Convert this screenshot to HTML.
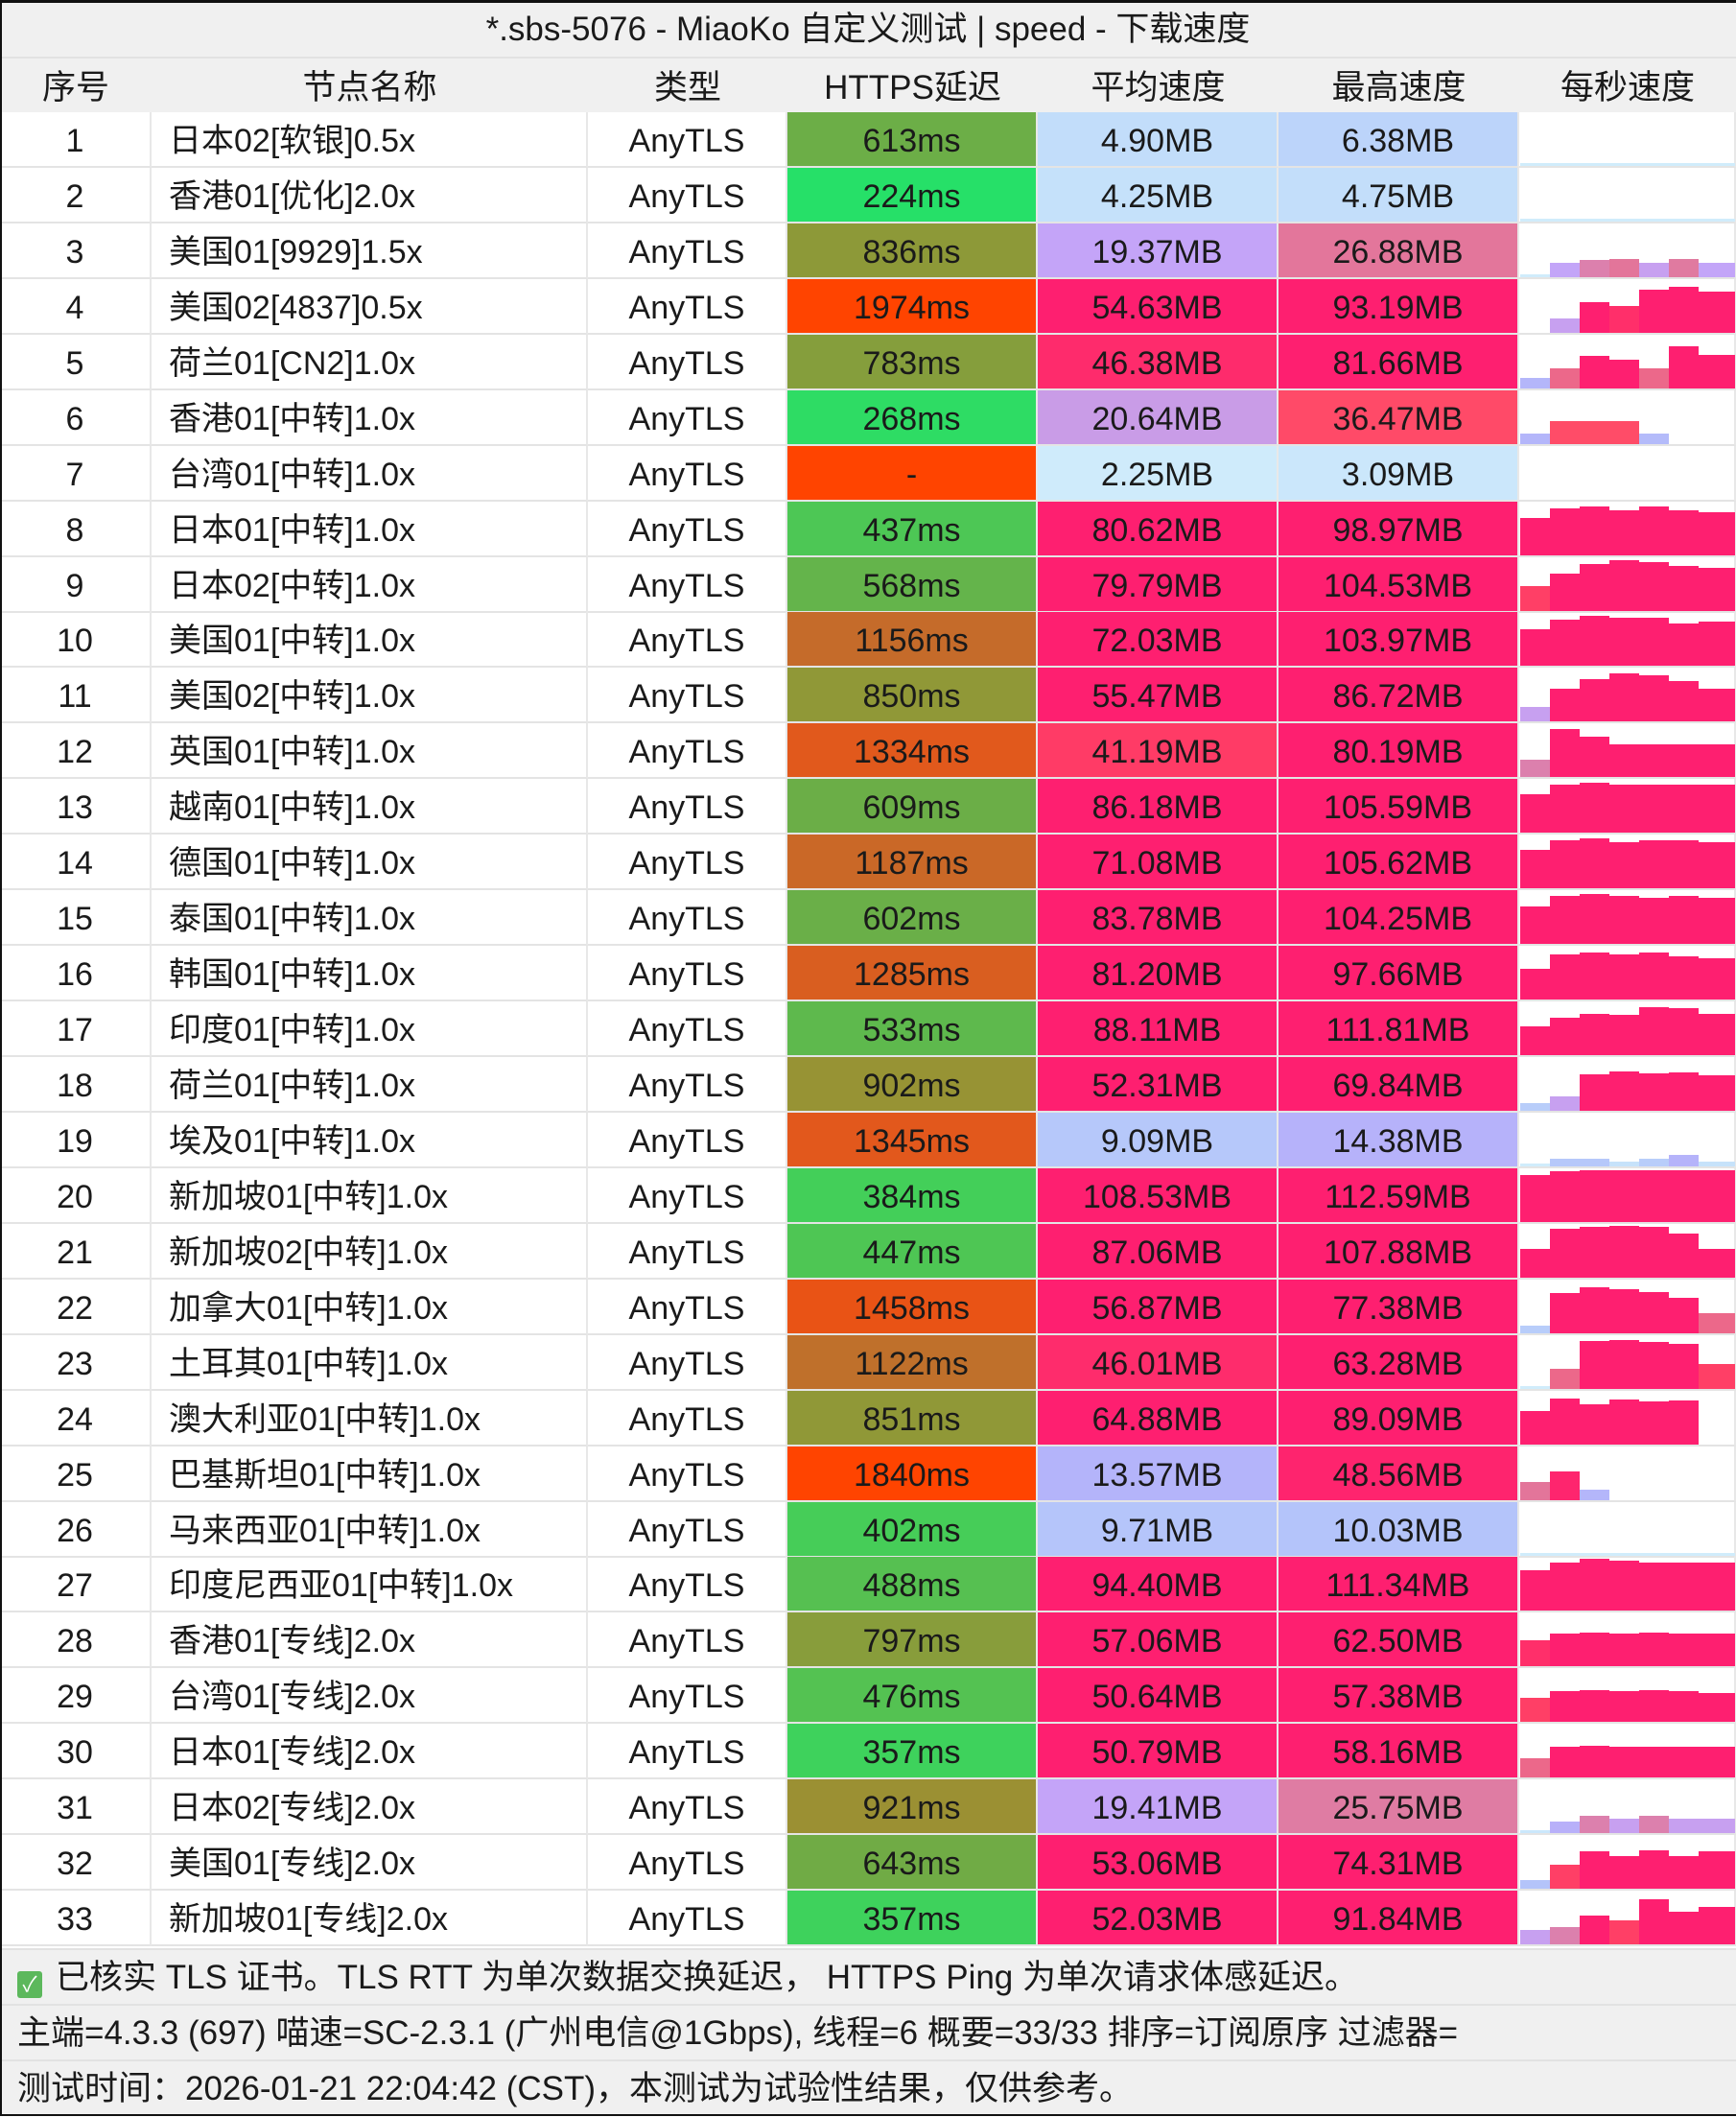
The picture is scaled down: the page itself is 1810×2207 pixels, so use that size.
<!DOCTYPE html>
<html><head><meta charset="utf-8">
<style>
html,body{margin:0;padding:0;background:#fff;}
body{width:1810px;height:2206px;position:relative;overflow:hidden;font-family:"Liberation Sans","Noto Sans CJK SC",sans-serif;color:#1a1a1a;}
#frame{position:absolute;left:0;top:0;width:1810px;height:2206px;box-sizing:border-box;border-top:3px solid #111;border-left:2px solid #111;border-bottom:2px solid #111;}
.title{position:absolute;left:0;top:0;width:1810px;height:59px;background:#f0f0f0;text-align:center;line-height:62px;font-size:35px;}
.hdr{position:absolute;top:59px;height:58px;background:#f0f0f0;line-height:62px;font-size:35px;text-align:center;border-top:2px solid #e2e2e2;box-sizing:border-box;}
.c{position:absolute;height:58px;line-height:60px;font-size:34px;text-align:center;box-sizing:border-box;border-bottom:2px solid #e4e4e4;border-right:2px solid #e8e8e8;white-space:nowrap;}
.l{text-align:left;padding-left:18px;}
.foot{position:absolute;left:0;width:1810px;height:58px;background:#f0f0f0;font-size:35px;line-height:58px;padding-left:18px;box-sizing:border-box;border-top:2px solid #e2e2e2;white-space:nowrap;}
.bar{position:absolute;}
</style></head><body>
<div class="title">*.sbs-5076 - MiaoKo 自定义测试 | speed - 下载速度</div>
<div class="hdr" style="left:0;width:158px">序号</div>
<div class="hdr" style="left:158px;width:455px">节点名称</div>
<div class="hdr" style="left:613px;width:208px">类型</div>
<div class="hdr" style="left:821px;width:261px">HTTPS延迟</div>
<div class="hdr" style="left:1082px;width:251px">平均速度</div>
<div class="hdr" style="left:1333px;width:251px">最高速度</div>
<div class="hdr" style="left:1584px;width:226px">每秒速度</div>
<div id="rows"></div>
<div id="r">
<div class="row"><span>1</span><span>日本02[软银]0.5x</span><span>613ms</span><span>4.90MB</span><span>6.38MB</span></div>
<div class="row"><span>2</span><span>香港01[优化]2.0x</span><span>224ms</span><span>4.25MB</span><span>4.75MB</span></div>
<div class="row"><span>3</span><span>美国01[9929]1.5x</span><span>836ms</span><span>19.37MB</span><span>26.88MB</span></div>
<div class="row"><span>4</span><span>美国02[4837]0.5x</span><span>1974ms</span><span>54.63MB</span><span>93.19MB</span></div>
<div class="row"><span>5</span><span>荷兰01[CN2]1.0x</span><span>783ms</span><span>46.38MB</span><span>81.66MB</span></div>
<div class="row"><span>6</span><span>香港01[中转]1.0x</span><span>268ms</span><span>20.64MB</span><span>36.47MB</span></div>
<div class="row"><span>7</span><span>台湾01[中转]1.0x</span><span>-</span><span>2.25MB</span><span>3.09MB</span></div>
<div class="row"><span>8</span><span>日本01[中转]1.0x</span><span>437ms</span><span>80.62MB</span><span>98.97MB</span></div>
<div class="row"><span>9</span><span>日本02[中转]1.0x</span><span>568ms</span><span>79.79MB</span><span>104.53MB</span></div>
<div class="row"><span>10</span><span>美国01[中转]1.0x</span><span>1156ms</span><span>72.03MB</span><span>103.97MB</span></div>
<div class="row"><span>11</span><span>美国02[中转]1.0x</span><span>850ms</span><span>55.47MB</span><span>86.72MB</span></div>
<div class="row"><span>12</span><span>英国01[中转]1.0x</span><span>1334ms</span><span>41.19MB</span><span>80.19MB</span></div>
<div class="row"><span>13</span><span>越南01[中转]1.0x</span><span>609ms</span><span>86.18MB</span><span>105.59MB</span></div>
<div class="row"><span>14</span><span>德国01[中转]1.0x</span><span>1187ms</span><span>71.08MB</span><span>105.62MB</span></div>
<div class="row"><span>15</span><span>泰国01[中转]1.0x</span><span>602ms</span><span>83.78MB</span><span>104.25MB</span></div>
<div class="row"><span>16</span><span>韩国01[中转]1.0x</span><span>1285ms</span><span>81.20MB</span><span>97.66MB</span></div>
<div class="row"><span>17</span><span>印度01[中转]1.0x</span><span>533ms</span><span>88.11MB</span><span>111.81MB</span></div>
<div class="row"><span>18</span><span>荷兰01[中转]1.0x</span><span>902ms</span><span>52.31MB</span><span>69.84MB</span></div>
<div class="row"><span>19</span><span>埃及01[中转]1.0x</span><span>1345ms</span><span>9.09MB</span><span>14.38MB</span></div>
<div class="row"><span>20</span><span>新加坡01[中转]1.0x</span><span>384ms</span><span>108.53MB</span><span>112.59MB</span></div>
<div class="row"><span>21</span><span>新加坡02[中转]1.0x</span><span>447ms</span><span>87.06MB</span><span>107.88MB</span></div>
<div class="row"><span>22</span><span>加拿大01[中转]1.0x</span><span>1458ms</span><span>56.87MB</span><span>77.38MB</span></div>
<div class="row"><span>23</span><span>土耳其01[中转]1.0x</span><span>1122ms</span><span>46.01MB</span><span>63.28MB</span></div>
<div class="row"><span>24</span><span>澳大利亚01[中转]1.0x</span><span>851ms</span><span>64.88MB</span><span>89.09MB</span></div>
<div class="row"><span>25</span><span>巴基斯坦01[中转]1.0x</span><span>1840ms</span><span>13.57MB</span><span>48.56MB</span></div>
<div class="row"><span>26</span><span>马来西亚01[中转]1.0x</span><span>402ms</span><span>9.71MB</span><span>10.03MB</span></div>
<div class="row"><span>27</span><span>印度尼西亚01[中转]1.0x</span><span>488ms</span><span>94.40MB</span><span>111.34MB</span></div>
<div class="row"><span>28</span><span>香港01[专线]2.0x</span><span>797ms</span><span>57.06MB</span><span>62.50MB</span></div>
<div class="row"><span>29</span><span>台湾01[专线]2.0x</span><span>476ms</span><span>50.64MB</span><span>57.38MB</span></div>
<div class="row"><span>30</span><span>日本01[专线]2.0x</span><span>357ms</span><span>50.79MB</span><span>58.16MB</span></div>
<div class="row"><span>31</span><span>日本02[专线]2.0x</span><span>921ms</span><span>19.41MB</span><span>25.75MB</span></div>
<div class="row"><span>32</span><span>美国01[专线]2.0x</span><span>643ms</span><span>53.06MB</span><span>74.31MB</span></div>
<div class="row"><span>33</span><span>新加坡01[专线]2.0x</span><span>357ms</span><span>52.03MB</span><span>91.84MB</span></div>
</div>
<div class="foot" style="top:2031px"><span style="display:inline-block;width:26px;height:28px;background:#5cb85c;border-radius:3px;color:#fff;font-size:22px;line-height:28px;text-align:center;vertical-align:-3px;margin-right:14px">✓</span>已核实 TLS 证书。TLS RTT 为单次数据交换延迟， HTTPS Ping 为单次请求体感延迟。</div>
<div class="foot" style="top:2089px">主端=4.3.3 (697) 喵速=SC-2.3.1 (广州电信@1Gbps), 线程=6 概要=33/33 排序=订阅原序 过滤器=</div>
<div class="foot" style="top:2147px">测试时间：2026-01-21 22:04:42 (CST)，本测试为试验性结果，仅供参考。</div>
<div id="frame"></div>
<script>
(function(){
var bars=[[1,2,1,1,1,1,1],[1,1,1,1,1,1,1],[2,19,25,27,20,26,19],[0,20,55,45,85,93,80],[13,30,58,50,30,82,60],[13,36,36,36,12,0,0],[0,0,0,0,0,0,0],
[70,95,99,90,99,90,85],[40,70,95,104,100,90,85],[70,95,104,100,100,85,90],[20,60,85,100,95,80,60],[25,100,80,60,60,60,60],[75,100,105,100,100,100,100],
[75,100,105,95,100,100,95],[70,100,104,100,95,100,95],[55,90,97,90,95,85,80],[50,70,80,78,98,95,80],[8,20,69,75,70,72,67],[2,9,9,4,8,14,4],
[95,105,108,108,108,108,108],[50,100,105,108,105,88,50],[8,77,92,88,80,65,30],[2,30,97,100,95,90,40],[60,93,78,89,85,88,0],[27,48,13,0,0,0,0],
[2,2,2,2,2,2,2],[80,100,111,105,100,100,100],[45,60,62,60,62,60,60],[40,55,57,55,57,55,50],[30,55,58,55,55,55,55],[3,15,25,20,25,20,20],[10,40,70,60,74,60,70],[20,25,50,40,90,60,70]];
function lerp(stops,v){for(var i=1;i<stops.length;i++){if(v<=stops[i][0]){var a=stops[i-1],b=stops[i],t=(v-a[0])/(b[0]-a[0]);return 'rgb('+[0,1,2].map(function(k){return Math.round(a[1][k]+(b[1][k]-a[1][k])*t)}).join(',')+')';}}var l=stops[stops.length-1][1];return 'rgb('+l.join(',')+')';}
var lat=[[200,[34,227,106]],[400,[70,205,88]],[600,[106,175,72]],[900,[151,147,52]],[1150,[196,108,42]],[1340,[226,88,28]],[1800,[255,68,0]]];
var spd=[[2,[208,236,251]],[4.5,[196,224,250]],[6.4,[188,212,250]],[10,[180,196,250]],[13.5,[180,180,250]],[19.4,[196,164,248]],[26,[224,122,160]],[36,[255,76,104]],[41,[255,60,102]],[50,[254,31,112]]];
function col(st,v){if(v<=st[0][0]){return 'rgb('+st[0][1].join(',')+')';}return lerp(st,v);}
var rows=document.querySelectorAll('#r .row');var out=document.getElementById('rows');
var cols=[[0,158,''],[158,455,'l'],[613,208,''],[821,261,''],[1082,251,''],[1333,251,''],[1584,226,'']];
for(var i=0;i<rows.length;i++){var sp=rows[i].children;var y0=117+i*57.94;
var vals=[sp[0].textContent,sp[1].textContent,'AnyTLS',sp[2].textContent,sp[3].textContent,sp[4].textContent,''];
for(var j=0;j<7;j++){var d=document.createElement('div');d.className='c '+cols[j][2];d.style.left=cols[j][0]+'px';d.style.width=cols[j][1]+'px';d.style.top=y0+'px';d.textContent=vals[j];
if(j==1)d.style.paddingLeft='18px';
if(j==3){var v=parseFloat(vals[3]);d.style.background=isNaN(v)?'rgb(255,68,0)':col(lat,v);}
if(j==4||j==5){d.style.background=col(spd,parseFloat(vals[j]));}
if(j==6){var b=bars[i];for(var k=0;k<7;k++){if(!b[k])continue;var e=document.createElement('div');e.className='bar';var h=Math.max(3,Math.min(55,55*Math.pow(b[k]/112,0.75)));e.style.left=(1+k*31)+'px';e.style.width=(k==6?38:31)+'px';e.style.height=h+'px';e.style.top=(56-h)+'px';e.style.background=col(spd,b[k]);d.appendChild(e);}}
out.appendChild(d);}}
document.getElementById('r').style.display='none';
})();
</script>
</body></html>
